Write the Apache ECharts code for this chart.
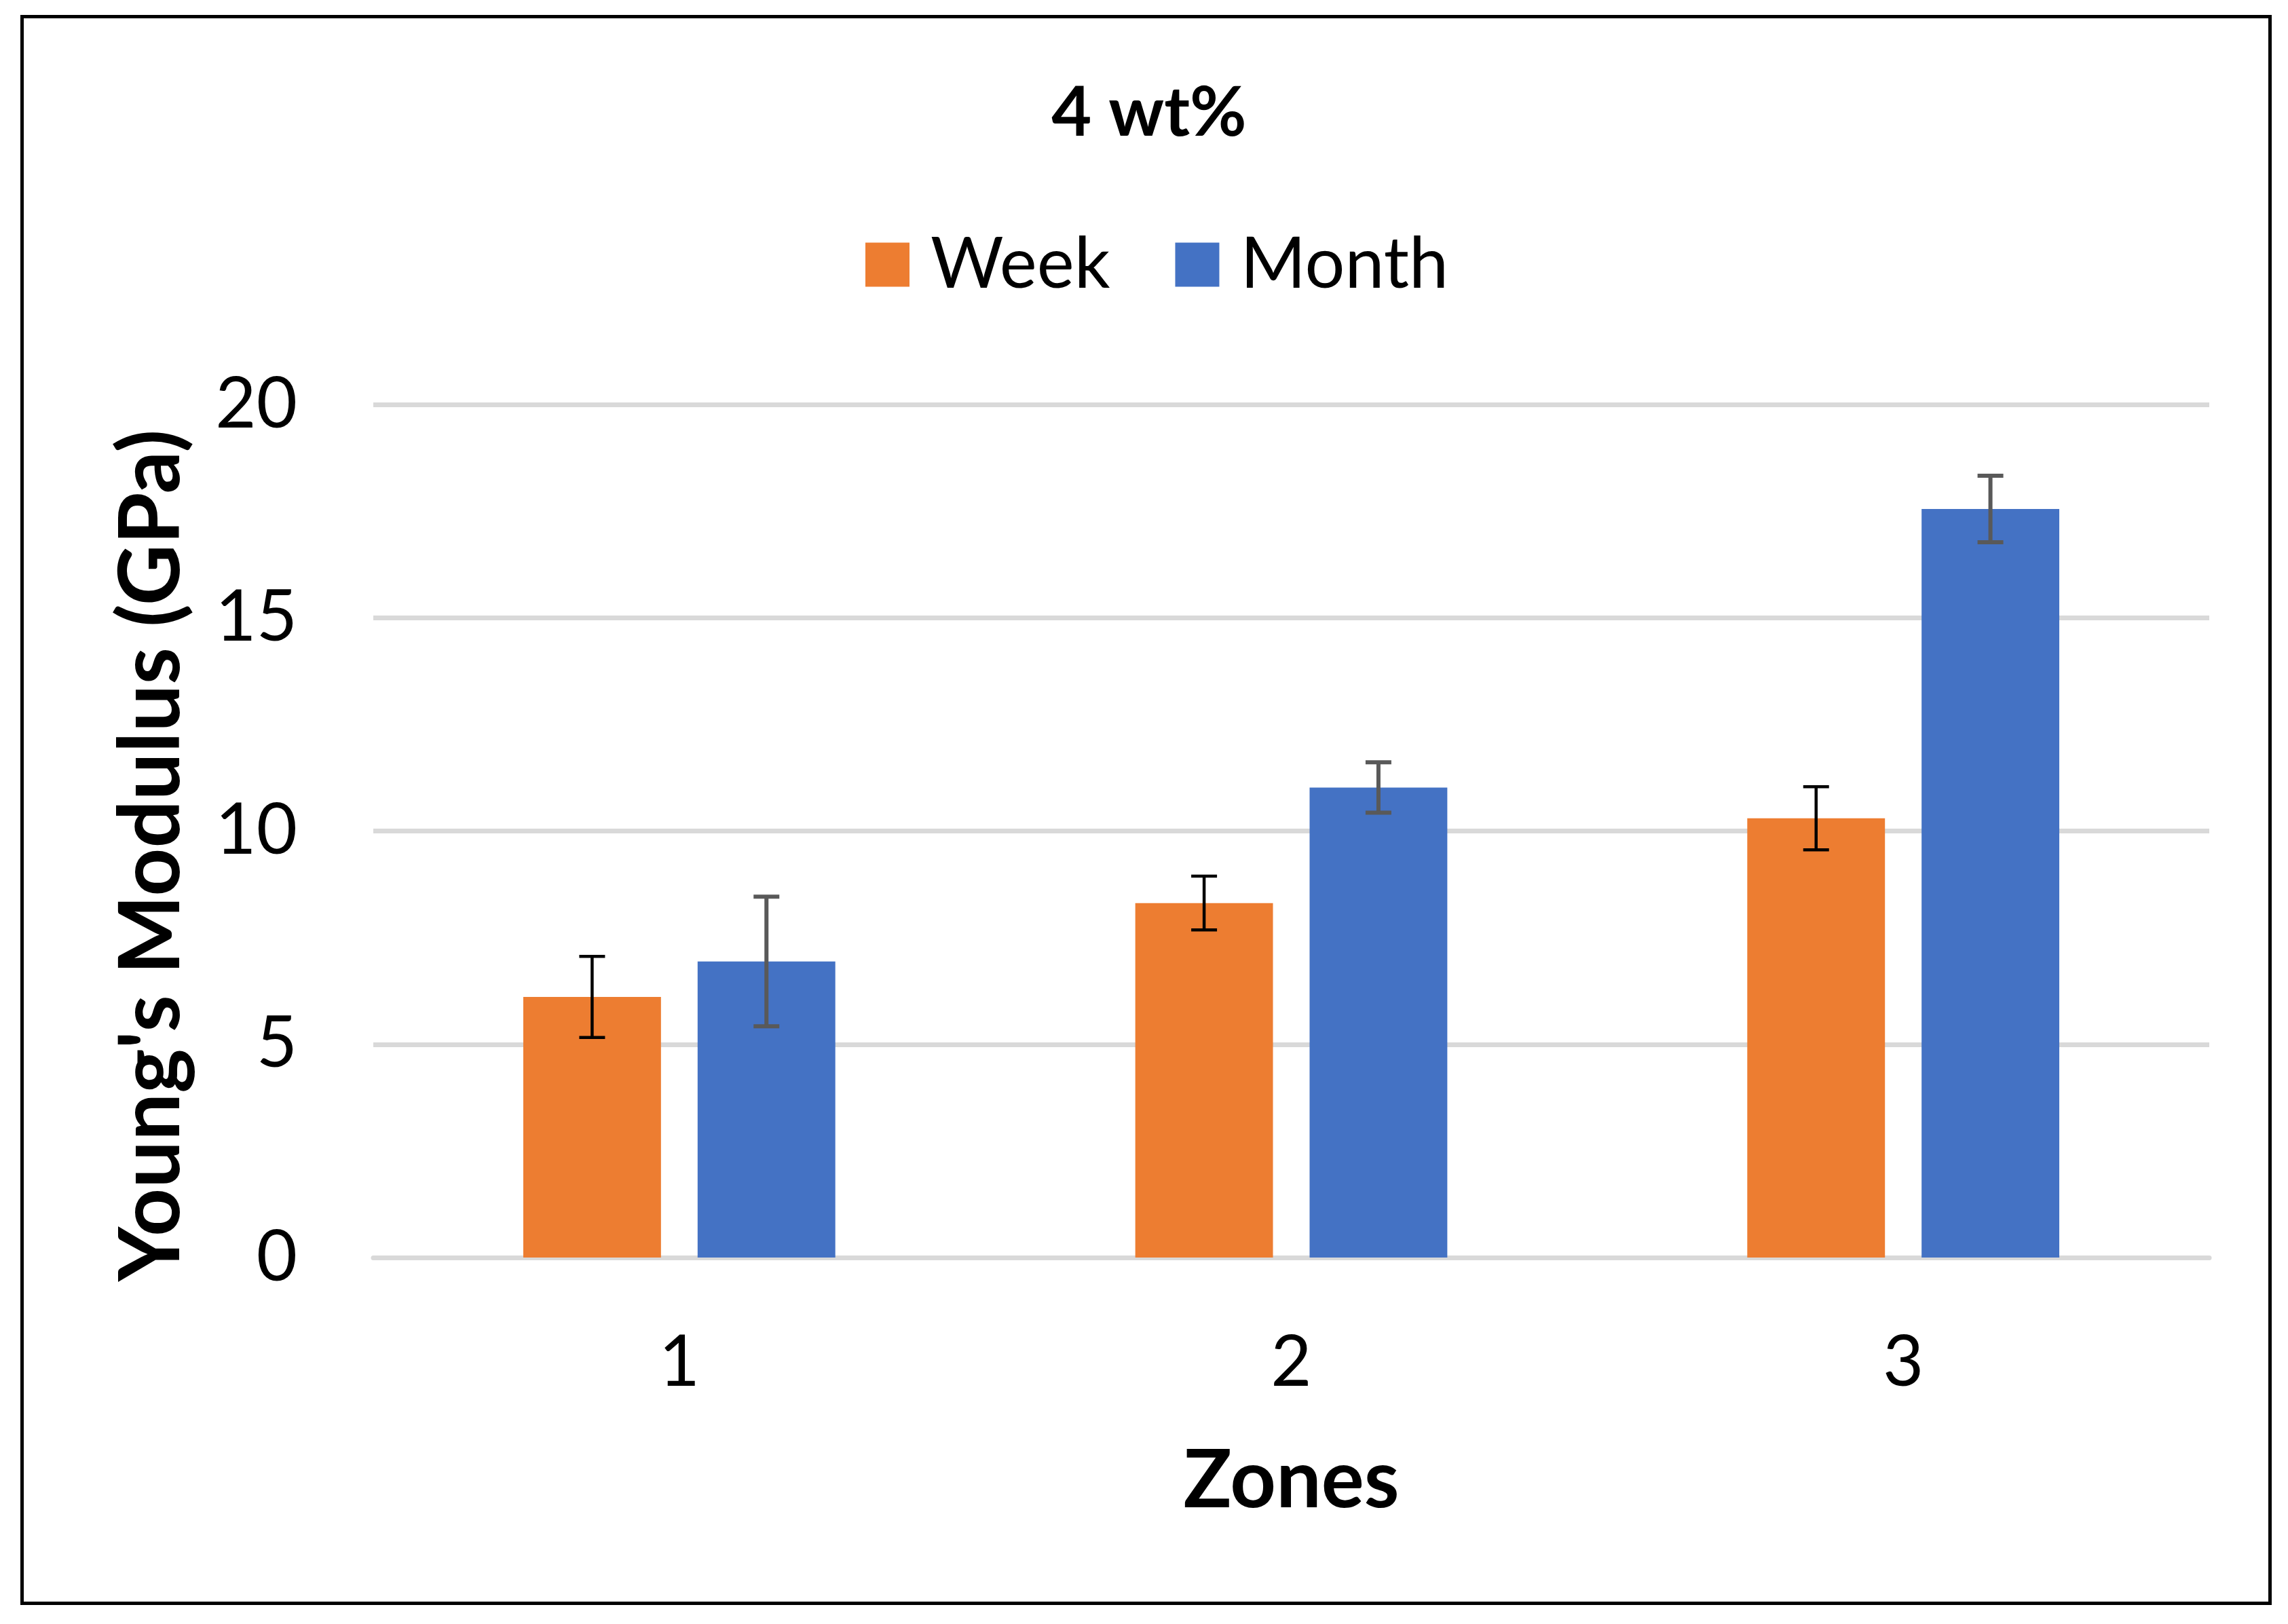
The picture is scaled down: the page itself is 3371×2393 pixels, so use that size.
<!DOCTYPE html>
<html>
<head>
<meta charset="utf-8">
<script src="https://cdn.jsdelivr.net/npm/echarts@6/dist/echarts.min.js"></script>
<style>
  html, body { margin: 0; padding: 0; background: #ffffff; }
  #chart { width: 3371px; height: 2393px; }
</style>
</head>
<body>
<div id="chart"></div>
<script>
// ---- data ----
const titleText = '4 wt%';
const zones = ['1', '2', '3'];
const seriesNames = ['Week', 'Month'];
const weekValues = [6.11, 8.31, 10.30];
const weekErrors = [0.95, 0.63, 0.74];
const monthValues = [6.94, 11.02, 17.55];
const monthErrors = [1.52, 0.59, 0.78];
const yTicks = [0, 5, 10, 15, 20];
const xAxisTitle = 'Zones';
const yAxisTitle = "Young's Modulus (GPa)";

// ---- styles ----
const FONT = 'Lato';
const ORANGE = '#ED7D31';
const BLUE = '#4472C4';
const GRID = '#D9D9D9';
const BAR_W = 0.225;   // fraction of category band
const BAR_GAP = 0.266; // fraction of bar width

function errorSeries(values, errors, sideSign, color, width) {
  return {
    type: 'custom',
    name: 'err',
    z: 10,
    silent: true,
    data: values.map((v, i) => [i, v, errors[i]]),
    encode: { x: 0, y: 1 },
    renderItem: function (params, api) {
      const idx = api.value(0);
      const v = api.value(1);
      const e = api.value(2);
      const band = api.size([1, 0])[0];
      const bw = band * BAR_W;
      const off = sideSign * (bw + bw * BAR_GAP) / 2;
      const hi = api.coord([idx, v + e]);
      const lo = api.coord([idx, v - e]);
      const x = hi[0] + off;
      const cap = 19;
      const st = { stroke: color, lineWidth: width, fill: null };
      return {
        type: 'group',
        children: [
          { type: 'line', shape: { x1: x, y1: hi[1], x2: x, y2: lo[1] }, style: st },
          { type: 'line', shape: { x1: x - cap, y1: hi[1], x2: x + cap, y2: hi[1] }, style: st },
          { type: 'line', shape: { x1: x - cap, y1: lo[1], x2: x + cap, y2: lo[1] }, style: st }
        ]
      };
    }
  };
}

const chart = echarts.init(document.getElementById('chart'), null, { renderer: 'canvas' });
chart.setOption({
  animation: false,
  backgroundColor: '#ffffff',
  textStyle: { fontFamily: FONT },
  title: {
    text: titleText,
    left: 1688,
    textAlign: 'center',
    top: 102,
    textStyle: { fontFamily: FONT, fontWeight: 'bold', fontSize: 102, lineHeight: 120, color: '#000' }
  },
  legend: {
    data: seriesNames,
    left: 1270,
    top: 325,
    icon: 'rect',
    itemWidth: 65,
    itemHeight: 65,
    itemGap: 96,
    textStyle: { fontFamily: FONT, fontSize: 104, lineHeight: 120, color: '#000', padding: [0, 0, 0, 26] }
  },
  grid: { left: 550, right: 116, top: 596, bottom: 540, containLabel: false },
  xAxis: {
    type: 'category',
    data: zones,
    name: xAxisTitle,
    nameLocation: 'middle',
    nameGap: 260,
    nameTextStyle: { fontFamily: FONT, fontWeight: 'bold', fontSize: 118, lineHeight: 140, color: '#000' },
    axisLine: { show: true, lineStyle: { color: GRID, width: 7 } },
    axisTick: { show: false },
    axisLabel: { margin: 95, fontFamily: FONT, fontSize: 104, lineHeight: 120, color: '#000' }
  },
  yAxis: {
    type: 'value',
    min: yTicks[0],
    max: yTicks[yTicks.length - 1],
    interval: 5,
    name: yAxisTitle,
    nameLocation: 'middle',
    nameGap: 254,
    nameTextStyle: { fontFamily: FONT, fontWeight: 'bold', fontSize: 124, lineHeight: 144, color: '#000', padding: [0, 72, 0, 0] },
    axisLine: { show: false },
    axisTick: { show: false },
    axisLabel: { margin: 112, fontFamily: FONT, fontSize: 104, color: '#000' },
    splitLine: { show: true, lineStyle: { color: GRID, width: 7 } }
  },
  series: [
    { type: 'bar', name: seriesNames[0], data: weekValues, barWidth: (BAR_W * 100) + '%', barGap: (BAR_GAP * 100) + '%', itemStyle: { color: ORANGE } },
    { type: 'bar', name: seriesNames[1], data: monthValues, barWidth: (BAR_W * 100) + '%', barGap: (BAR_GAP * 100) + '%', itemStyle: { color: BLUE } },
    errorSeries(weekValues, weekErrors, -1, '#000000', 4.5),
    errorSeries(monthValues, monthErrors, 1, '#595959', 6)
  ],
  graphic: [
    {
      type: 'rect',
      silent: true,
      z: 100,
      shape: { x: 32.5, y: 24.5, width: 3312, height: 2338 },
      style: { fill: null, stroke: '#000000', lineWidth: 5 }
    }
  ]
});
</script>
</body>
</html>
